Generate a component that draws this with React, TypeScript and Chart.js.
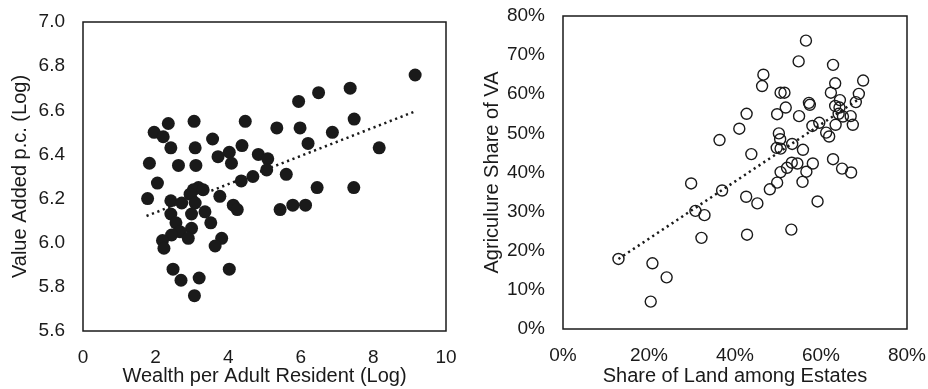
import React, { useEffect, useRef } from "react";
import { Chart, registerables } from "chart.js";

Chart.register(...registerables);

// ---------- Left chart data ----------
const wealthLog: number[] = [
  9.15, 6.49, 7.36, 5.94, 7.47, 6.87, 5.98, 5.34, 4.47, 3.06, 2.35, 1.96, 2.21,
  8.16, 6.2, 4.38, 3.57, 3.09, 2.42, 4.03, 3.72, 4.09, 4.83, 5.09, 1.83, 2.63,
  3.11, 5.06, 4.68, 4.36, 5.6, 2.05, 6.45, 7.46, 3.18, 3.04, 2.95, 3.31, 1.78,
  2.42, 2.72, 3.09, 3.77, 4.14, 4.25, 5.43, 5.78, 6.13, 2.42, 2.99, 3.36, 2.56,
  3.52, 2.99, 2.67, 2.44, 2.9, 2.19, 2.23, 3.82, 3.64, 2.48, 2.7, 3.2, 4.03, 3.07,
];
const valueAddedLog: number[] = [
  6.76, 6.68, 6.7, 6.64, 6.56, 6.5, 6.52, 6.52, 6.55, 6.55, 6.54, 6.5, 6.48,
  6.43, 6.45, 6.44, 6.47, 6.43, 6.43, 6.41, 6.39, 6.36, 6.4, 6.38, 6.36, 6.35,
  6.35, 6.33, 6.3, 6.28, 6.31, 6.27, 6.25, 6.25, 6.25, 6.24, 6.22, 6.24, 6.2,
  6.19, 6.18, 6.18, 6.21, 6.17, 6.15, 6.15, 6.17, 6.17, 6.13, 6.13, 6.14, 6.09,
  6.09, 6.065, 6.05, 6.035, 6.02, 6.01, 5.975, 6.02, 5.985, 5.88, 5.83, 5.84, 5.88, 5.76,
];
const leftTrendX: number[] = [1.75, 9.1];
const leftTrendY: number[] = [6.121, 6.592];

// ---------- Right chart data (percent) ----------
const landShare: number[] = [
  12.9, 20.8, 24.1, 20.4, 29.8, 30.8, 32.9, 32.2, 37.0, 36.4, 41.0, 42.7, 43.8,
  42.6, 45.2, 42.8, 46.6, 46.3, 48.1, 49.8, 50.6, 52.1, 53.2, 54.5, 58.1, 56.6,
  55.7, 53.1, 59.2, 49.7, 50.6, 53.3, 55.8, 50.2, 50.5, 49.8, 51.8, 50.6, 51.5,
  54.9, 56.5, 54.8, 57.2, 57.4, 58.0, 59.6, 61.2, 61.9, 62.8, 64.9, 67.0, 62.8,
  63.3, 62.3, 69.8, 68.8, 68.1, 64.4, 63.3, 64.3, 64.1, 65.1, 66.9, 63.4, 67.4,
];
const agriShare: number[] = [
  17.9, 16.8, 13.2, 7.0, 37.2, 30.2, 29.1, 23.3, 35.4, 48.3, 51.2, 55.0, 44.7,
  33.8, 32.1, 24.1, 65.0, 62.1, 35.7, 37.4, 40.1, 41.2, 42.5, 42.3, 42.3, 40.2,
  37.6, 25.4, 32.6, 46.3, 46.1, 47.3, 45.8, 50.0, 48.5, 54.9, 56.6, 60.4, 60.4,
  54.4, 73.7, 68.4, 57.8, 57.3, 51.9, 52.7, 50.2, 49.2, 43.4, 41.0, 40.0, 67.5,
  62.8, 60.4, 63.5, 60.1, 58.0, 58.5, 57.0, 56.6, 55.0, 54.3, 54.4, 52.2, 52.2,
];
const rightTrendX: number[] = [12.9, 68.6];
const rightTrendY: number[] = [17.9, 58.6];

const leftXTicks = [0, 2, 4, 6, 8, 10];
const leftYTicks = [5.6, 5.8, 6.0, 6.2, 6.4, 6.6, 6.8, 7.0];
const rightXTicks = [0, 20, 40, 60, 80];
const rightYTicks = [0, 10, 20, 30, 40, 50, 60, 70, 80];

const TICK_FONT = { family: "'Liberation Sans', Arial, sans-serif", size: 19 };
const TITLE_FONT = { family: "'Liberation Sans', Arial, sans-serif", size: 20 };
const INK = "#1a1a1a";

const boxPlugin = {
  id: "boxPlugin",
  afterDraw(chart: any) {
    const { ctx, chartArea } = chart;
    ctx.save();
    ctx.strokeStyle = INK;
    ctx.lineWidth = 1.5;
    ctx.strokeRect(chartArea.left, chartArea.top, chartArea.right - chartArea.left, chartArea.bottom - chartArea.top);
    ctx.restore();
  },
};

function zip(xs: number[], ys: number[]) {
  return xs.map((x, i) => ({ x, y: ys[i] }));
}

function makeScale(opts: any) {
  return {
    type: "linear",
    min: opts.min,
    max: opts.max,
    grid: { display: false, drawTicks: false },
    border: { display: false },
    afterBuildTicks: (scale: any) => {
      scale.ticks = opts.ticks.map((v: number) => ({ value: v }));
    },
    afterFit: (s: any) => {
      if (opts.height !== undefined) s.height = opts.height;
      if (opts.width !== undefined) s.width = opts.width;
      s.paddingLeft = 0;
      s.paddingRight = 0;
      s.paddingTop = 0;
      s.paddingBottom = 0;
    },
    ticks: {
      color: INK,
      font: TICK_FONT,
      padding: opts.padding,
      callback: opts.fmt,
      maxRotation: 0,
      autoSkip: false,
    },
    title: {
      display: true,
      text: opts.title,
      color: INK,
      font: TITLE_FONT,
      padding: opts.titlePadding,
    },
  };
}

function ScatterPanel(props: { cfg: any; left: number; width: number }) {
  const ref = useRef<HTMLCanvasElement | null>(null);
  useEffect(() => {
    const chart = new Chart(ref.current as HTMLCanvasElement, props.cfg);
    return () => chart.destroy();
  }, []);
  return (
    <div style={{ position: "absolute", left: props.left, top: 0, width: props.width, height: 389 }}>
      <canvas ref={ref} width={props.width} height={389} style={{ width: props.width, height: 389 }} />
    </div>
  );
}

const dotted = {
  borderColor: INK,
  borderWidth: 2.5,
  borderDash: [2.2, 3.6],
  borderCapStyle: "butt",
  pointRadius: 0,
  showLine: true,
  fill: false,
  tension: 0,
};

const leftCfg = {
  type: "scatter",
  data: {
    datasets: [
      {
        data: zip(wealthLog, valueAddedLog),
        pointRadius: 6.5,
        pointBackgroundColor: INK,
        pointBorderWidth: 0,
        pointBorderColor: INK,
      },
      { type: "line", data: zip(leftTrendX, leftTrendY), ...dotted },
    ],
  },
  options: {
    responsive: false,
    animation: false,
    events: [],
    layout: { padding: { top: 22, right: 19, bottom: 0, left: 0 } },
    plugins: { legend: { display: false }, tooltip: { enabled: false } },
    scales: {
      x: makeScale({
        min: 0, max: 10, ticks: leftXTicks, padding: 15,
        fmt: (v: any) => String(v), title: "Wealth per Adult Resident (Log)",
        titlePadding: { top: 0, bottom: 1 },
        height: 58,
      }),
      y: makeScale({
        min: 5.6, max: 7.0, ticks: leftYTicks, padding: 18,
        fmt: (v: any) => Number(v).toFixed(1), title: "Value Added p.c. (Log)",
        titlePadding: { top: 8, bottom: 0 },
        width: 83,
      }),
    },
  },
  plugins: [boxPlugin],
};

const rightCfg = {
  type: "scatter",
  data: {
    datasets: [
      {
        data: zip(landShare, agriShare),
        pointRadius: 5.5,
        pointBackgroundColor: "rgba(0,0,0,0)",
        pointBorderWidth: 1.4,
        pointBorderColor: INK,
      },
      { type: "line", data: zip(rightTrendX, rightTrendY), ...dotted },
    ],
  },
  options: {
    responsive: false,
    animation: false,
    events: [],
    layout: { padding: { top: 16, right: 21, bottom: 0, left: 0 } },
    plugins: { legend: { display: false }, tooltip: { enabled: false } },
    scales: {
      x: makeScale({
        min: 0, max: 80, ticks: rightXTicks, padding: 15,
        fmt: (v: any) => v + "%", title: "Share of Land among Estates",
        titlePadding: { top: 0, bottom: 1 },
        height: 60,
      }),
      y: makeScale({
        min: 0, max: 80, ticks: rightYTicks, padding: 18,
        fmt: (v: any) => v + "%", title: "Agriculure Share of VA",
        titlePadding: { top: 15, bottom: 0 },
        width: 98,
      }),
    },
  },
  plugins: [boxPlugin],
};

export default function App() {
  return (
    <div style={{ position: "absolute", left: 0, top: 0, width: 928, height: 389, background: "#fff" }}>
      <ScatterPanel cfg={leftCfg} left={0} width={465} />
      <ScatterPanel cfg={rightCfg} left={465} width={463} />
    </div>
  );
}
